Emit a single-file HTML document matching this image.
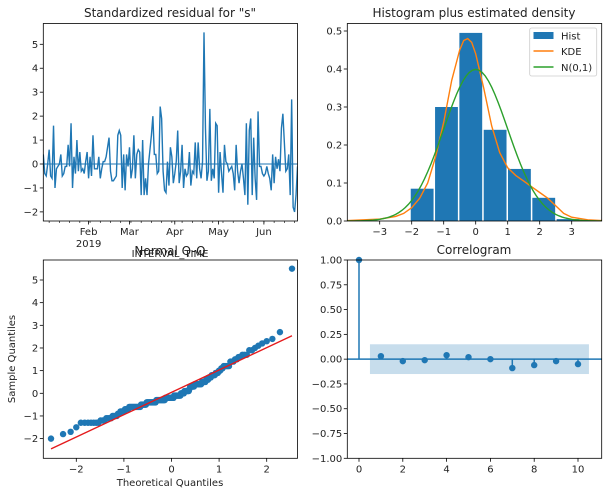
<!DOCTYPE html>
<html><head><meta charset="utf-8"><style>
body{margin:0;background:#fff}
svg{display:block;font-family:"DejaVu Sans","Liberation Sans",sans-serif}
</style></head><body>
<svg id="fig" width="608" height="496" xmlns="http://www.w3.org/2000/svg"></svg>
<script>
const resid = [0.4,-0.4,-0.5,0,0.6,-0.5,-0.6,1.6,-1,-0.2,-0.1,0,0.4,-0.5,-0.4,-0.1,-0.1,0.8,-0.1,1.7,-1,0.3,-0.4,1,-0.3,0.5,-0.3,-0.2,-0.4,0.1,0.5,
-0.6,0.3,-0.5,1.2,-0.2,-0.2,-0.2,0.3,-0.6,-0.2,0.1,0.1,0.3,0.7,1.1,-0.3,-0.7,-0.7,-0.6,-0.5,1.2,1.4,1.2,-1,0.4,-1.1,0.4,-0.1,
0.7,-0.6,-0.2,1.2,-0.6,0.4,0.6,0.5,-1.3,1,-1.3,-0.6,-1.3,0,0.6,1.2,2,0.4,0.4,-0.4,-0.3,2.4,1.9,-0.3,-1.1,-1.2,0.1,-0.9,0.7,0.3,-0.8,
-0.4,0.1,1.4,-0.8,-0.3,0.8,-1,-0.2,-0.5,-0.4,0.5,-0.9,-0.3,-0.4,0.9,-0.6,0.9,-0.2,-0.6,0.1,5.5,1.5,-0.7,-0.3,2.3,-0.7,-0.2,-0.6,1.7,1.6,
-1.2,0.5,-0.4,-1.2,0.8,0.1,0,-0.3,-0.2,-0.1,-0.4,-1.1,0.8,-0.3,-0.8,-0.3,0,-0.6,-1.3,1.7,-1.7,1.4,1.9,-1.3,1.1,-0.6,-1.5,2.2,-0.1,-0.1,-0.4,
-0.5,-0.4,-0.1,-0.4,-0.6,-1.1,0.4,-0.8,0.3,-0.2,0.2,-0.3,1.5,2.1,0.9,-0.3,-0.2,0.4,-1.3,2.7,-1.8,-2,-1.3,-0.1];
const monthLabels = ["Feb","Mar","Apr","May","Jun"];
const monthDays = [31,59,90,120,151];
const histEdges = [-2.03,-1.27,-0.51,0.25,1.01,1.77,2.53,3.29];
const histHeights = [0.085,0.30,0.495,0.24,0.137,0.061,0.005];
const kdeX = [-4,-3.5,-3,-2.5,-2.25,-2,-1.75,-1.5,-1.25,-1,-0.75,-0.5,-0.375,-0.25,-0.125,0,0.25,0.5,0.75,1,1.25,1.5,1.75,2,2.25,2.5,2.75,3,3.5,4];
const kdeY = [0.001,0.003,0.005,0.012,0.02,0.035,0.06,0.1,0.17,0.26,0.37,0.45,0.475,0.48,0.47,0.44,0.35,0.25,0.18,0.14,0.12,0.105,0.09,0.075,0.06,0.04,0.02,0.01,0.003,0.001];
const acfLags = [0,1,2,3,4,5,6,7,8,9,10];
const acfVals = [1,0.03,-0.02,-0.01,0.04,0.02,0,-0.09,-0.06,-0.02,-0.05];
const confBand = 0.15;

const NS="http://www.w3.org/2000/svg", svg=document.getElementById('fig');
function el(tag,attrs,parent,text){const e=document.createElementNS(NS,tag);for(const k in attrs)e.setAttribute(k,attrs[k]);if(text!==undefined)e.textContent=text;(parent||svg).appendChild(e);return e;}
function lin(d0,d1,r0,r1){return v=>r0+(v-d0)*(r1-r0)/(d1-d0);}
function txt(x,y,s,anchor,size,name,extra){const t=el('text',Object.assign({x:x,y:y,'text-anchor':anchor||'middle','font-size':size||10,fill:'#222'},extra||{}),svg,s);return t;}
function fmt(v){return (v<0?'\u2212':'')+Math.abs(v);}
function frame(x0,y0,x1,y1,name){const r=el('rect',{x:x0,y:y0,width:x1-x0,height:y1-y0,fill:'none',stroke:'#000','stroke-width':0.8});}
function yticks(X0,sy,vals,labels,name){vals.forEach((v,i)=>{const y=sy(v);el('line',{x1:X0-3.5,x2:X0,y1:y,y2:y,stroke:'#000','stroke-width':0.8});txt(X0-5,y+3.5,labels[i],'end',10,name);});}
function xticks(Y1,sx,vals,labels,name){vals.forEach((v,i)=>{const x=sx(v);el('line',{x1:x,x2:x,y1:Y1,y2:Y1+3.5,stroke:'#000','stroke-width':0.8});txt(x,Y1+14,labels[i],'middle',10,name);});}

// ---- Panel 1: residuals
{const X0=43.3,X1=297.5,Y0=23.5,Y1=221;
const sx=lin(0,resid.length-1,X0,X1), sy=lin(0,5,164,44.3);
const cp=el('clipPath',{id:'c1'});el('rect',{x:X0,y:Y0,width:X1-X0,height:Y1-Y0},cp);
el('line',{x1:X0,x2:X1,y1:sy(0),y2:sy(0),stroke:'#1f77b4','stroke-width':2,opacity:0.5});
const p=el('polyline',{points:resid.map((v,i)=>sx(i)+','+sy(v)).join(' '),fill:'none',stroke:'#1f77b4','stroke-width':1.4,'clip-path':'url(#c1)'});

frame(X0,Y0,X1,Y1,'residual-axes');
yticks(X0,sy,[-2,-1,0,1,2,3,4,5],[-2,-1,0,1,2,3,4,5].map(fmt),'residual-y-tick');
for(let d=4;d<resid.length;d+=7){el('line',{x1:sx(d),x2:sx(d),y1:Y1,y2:Y1+2,stroke:'#000','stroke-width':0.6});}
xticks(Y1,sx,monthDays,monthLabels,'residual-x-tick');
txt(sx(31),247,'2019','middle',10,'year-label');
txt(170,257,'INTERVAL_TIME','middle',10,'residual-x-title');
txt(170,17,'Standardized residual for "s"','middle',12,'residual-title');}

// ---- Panel 2: histogram
{const X0=347.3,X1=601.7,Y0=23.5,Y1=221;
const sx=lin(-3,3,379.7,571.7), sy=lin(0,0.5,221,31);
histHeights.forEach((h,i)=>{const r=el('rect',{x:sx(histEdges[i]),y:sy(h),width:sx(histEdges[i+1])-sx(histEdges[i])-1.5,height:sy(0)-sy(h),fill:'#1f77b4'});});
const cp=el('clipPath',{id:'c2'});el('rect',{x:X0,y:Y0,width:X1-X0,height:Y1-Y0},cp);
const k=el('polyline',{points:kdeX.map((v,i)=>sx(v)+','+sy(kdeY[i])).join(' '),fill:'none',stroke:'#ff7f0e','stroke-width':1.4,'clip-path':'url(#c2)'});

const np=[];for(let x=-4;x<=4.001;x+=0.1)np.push(sx(x)+','+sy(Math.exp(-x*x/2)/Math.sqrt(2*Math.PI)));
const n=el('polyline',{points:np.join(' '),fill:'none',stroke:'#2ca02c','stroke-width':1.4,'clip-path':'url(#c2)'});

frame(X0,Y0,X1,Y1,'hist-axes');
yticks(X0,sy,[0,0.1,0.2,0.3,0.4,0.5],['0.0','0.1','0.2','0.3','0.4','0.5'],'hist-y-tick');
xticks(Y1,sx,[-3,-2,-1,0,1,2,3],[-3,-2,-1,0,1,2,3].map(fmt),'hist-x-tick');
txt(474,17,'Histogram plus estimated density','middle',12,'hist-title');
const lg=el('rect',{x:529.7,y:28,width:67,height:48,fill:'#fff',stroke:'#ccc','stroke-width':0.8,rx:2});
el('rect',{x:533.5,y:32,width:20,height:7,fill:'#1f77b4'});txt(561,39.5,'Hist','start',10,'legend-entry-hist');
el('line',{x1:533.5,x2:553.5,y1:51,y2:51,stroke:'#ff7f0e','stroke-width':1.5});txt(561,55,'KDE','start',10,'legend-entry-kde');
el('line',{x1:533.5,x2:553.5,y1:67,y2:67,stroke:'#2ca02c','stroke-width':1.5});txt(561,71,'N(0,1)','start',10,'legend-entry-normal');}

// ---- Panel 3: QQ
{const X0=43.3,X1=297.5,Y0=260,Y1=458.3;
const sx=lin(0,2,171.5,266.7), sy=lin(0,5,393.3,280);
const s=resid.slice().sort((a,b)=>a-b), n=s.length;
function ppf(p){
const a=[-39.6968302866538,220.946098424521,-275.928510446969,138.357751867269,-30.6647980661472,2.50662827745924],b=[-54.4760987982241,161.585836858041,-155.698979859887,66.8013118877197,-13.2806815528857],c=[-0.00778489400243029,-0.322396458041136,-2.40075827716184,-2.54973253934373,4.37466414146497,2.93816398269878],d=[0.00778469570904146,0.32246712907004,2.445134137143,3.75440866190742];
if(p<0.02425){const q=Math.sqrt(-2*Math.log(p));return (((((c[0]*q+c[1])*q+c[2])*q+c[3])*q+c[4])*q+c[5])/((((d[0]*q+d[1])*q+d[2])*q+d[3])*q+1);}
if(p>1-0.02425){return -ppf(1-p);}
const q=p-0.5,r=q*q;return (((((a[0]*r+a[1])*r+a[2])*r+a[3])*r+a[4])*r+a[5])*q/(((((b[0]*r+b[1])*r+b[2])*r+b[3])*r+b[4])*r+1);}
const th=s.map((v,i)=>ppf((i+1)/(n+1)));
const mean=s.reduce((a,b)=>a+b,0)/n, sd=Math.sqrt(s.reduce((a,b)=>a+(b-mean)**2,0)/(n-1));
s.forEach((v,i)=>{const c=el('circle',{cx:sx(th[i]),cy:sy(v),r:3.2,fill:'#1f77b4'});});
const t0=th[0],t1=th[n-1];
const l=el('line',{x1:sx(t0),y1:sy(mean+sd*t0),x2:sx(t1),y2:sy(mean+sd*t1),stroke:'#e41a1c','stroke-width':1.4});
frame(X0,Y0,X1,Y1,'qq-axes');
yticks(X0,sy,[-2,-1,0,1,2,3,4,5],[-2,-1,0,1,2,3,4,5].map(fmt),'qq-y-tick');
xticks(Y1,sx,[-2,-1,0,1,2],[-2,-1,0,1,2].map(fmt),'qq-x-tick');
txt(170,486,'Theoretical Quantiles','middle',10,'qq-x-title');
txt(15,359,'Sample Quantiles','middle',10,'qq-y-title',{transform:'rotate(-90 15 359)'});
txt(170,255,'Normal Q-Q','middle',12,'qq-title');}

// ---- Panel 4: correlogram
{const X0=347.3,X1=601.7,Y0=260,Y1=458.3;
const sx=lin(0,10,359,578), sy=lin(-1,1,458.3,260);
const b=el('rect',{x:sx(0.5),y:sy(confBand),width:sx(10.5)-sx(0.5),height:sy(-confBand)-sy(confBand),fill:'#1f77b4',opacity:0.25});
el('line',{x1:X0,x2:X1,y1:sy(0),y2:sy(0),stroke:'#1f77b4','stroke-width':1.5});
acfLags.forEach((lag,i)=>{el('line',{x1:sx(lag),x2:sx(lag),y1:sy(0),y2:sy(acfVals[i]),stroke:'#1f77b4','stroke-width':1.5});
const c=el('circle',{cx:sx(lag),cy:sy(acfVals[i]),r:3.2,fill:'#1f77b4'});});
frame(X0,Y0,X1,Y1,'correlogram-axes');
const yv=[-1,-0.75,-0.5,-0.25,0,0.25,0.5,0.75,1];
yticks(X0,sy,yv,yv.map(v=>(v<0?'\u2212':'')+Math.abs(v).toFixed(2)),'correlogram-y-tick');
xticks(Y1,sx,[0,2,4,6,8,10],['0','2','4','6','8','10'],'correlogram-x-tick');
txt(474,254,'Correlogram','middle',12,'correlogram-title');}
</script>
</body></html>
